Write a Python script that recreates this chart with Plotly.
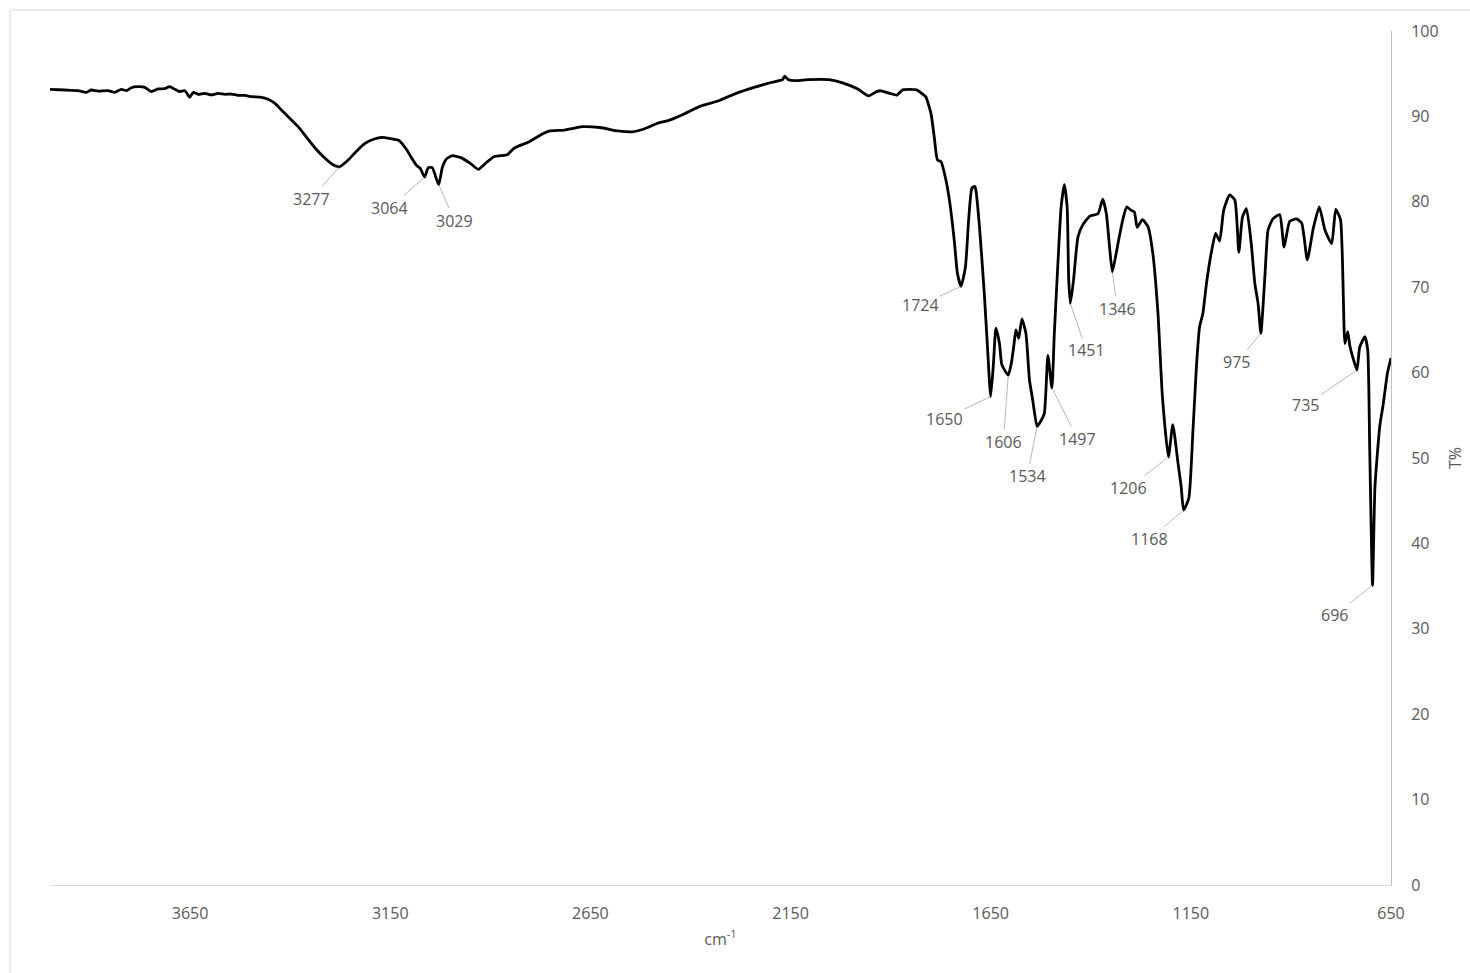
import plotly.graph_objects as go

# FTIR transmittance spectrum: wavenumber (cm-1) vs transmittance (%)
wavenumber = [
    4000, 3963, 3930, 3909, 3897, 3880, 3855, 3838, 3822, 3809, 3797, 3780, 3763, 3747,
    3730, 3713, 3701, 3688, 3676, 3663, 3651, 3642, 3630, 3613, 3597, 3580, 3563, 3547,
    3530, 3513, 3497, 3472, 3455, 3438, 3422, 3405, 3380, 3360, 3338, 3313, 3295, 3277,
    3255, 3235, 3213, 3190, 3171, 3149, 3129, 3109, 3095, 3085, 3075, 3064, 3055, 3045,
    3029, 3020, 3010, 2995, 2975, 2950, 2930, 2910, 2890, 2876, 2858, 2840, 2804, 2768,
    2751, 2715, 2670, 2626, 2581, 2545, 2518, 2482, 2456, 2420, 2375, 2331, 2286, 2241,
    2196, 2170, 2165, 2155, 2134, 2107, 2054, 2018, 1982, 1955, 1935, 1924, 1902, 1884,
    1870, 1835, 1817, 1812, 1799, 1791, 1783, 1774, 1762, 1753, 1741, 1733, 1724, 1713,
    1705, 1697, 1690, 1687, 1678, 1666, 1658, 1650, 1643, 1637, 1628, 1622, 1606, 1598,
    1592, 1587, 1580, 1572, 1562, 1553, 1545, 1534, 1525, 1516, 1507, 1497, 1491, 1482,
    1474, 1466, 1459, 1455, 1451, 1443, 1432, 1420, 1403, 1382, 1370, 1361, 1353, 1346,
    1332, 1320, 1310, 1299, 1291, 1284, 1271, 1257, 1245, 1232, 1221, 1206, 1195, 1182,
    1174, 1168, 1155, 1145, 1136, 1128, 1120, 1111, 1099, 1088, 1078, 1068, 1053, 1040,
    1030, 1021, 1011, 999, 990, 982, 975, 965, 957, 945, 928, 917, 903, 886,
    873, 859, 844, 829, 815, 798, 788, 776, 765, 758, 753, 746, 735, 728,
    715, 708, 703, 696, 690, 678, 669, 659, 650,
]
transmittance = [
    93.17, 93.09, 93.01, 92.82, 93.09, 92.97, 93.01, 92.82, 93.17, 93.01, 93.36, 93.48, 93.40, 92.90,
    93.21, 93.25, 93.48, 93.17, 92.90, 93.01, 92.24, 92.82, 92.59, 92.70, 92.51, 92.70, 92.59, 92.62,
    92.47, 92.47, 92.31, 92.24, 92.00, 91.53, 90.76, 89.97, 88.8, 87.6, 86.3, 85.1, 84.4, 84.1,
    84.9, 85.9, 86.85, 87.35, 87.55, 87.4, 87.2, 86.1, 85.0, 84.3, 83.9, 82.9, 84.0, 84.0,
    82.0, 84.0, 85.0, 85.4, 85.2, 84.5, 83.8, 84.6, 85.3, 85.4, 85.5, 86.3, 87.0, 88.0,
    88.3, 88.4, 88.8, 88.7, 88.3, 88.2, 88.5, 89.2, 89.5, 90.2, 91.2, 91.8, 92.7, 93.4,
    94.0, 94.3, 94.7, 94.3, 94.2, 94.3, 94.3, 93.9, 93.2, 92.4, 92.9, 93.0, 92.7, 92.5,
    93.1, 93.1, 92.5, 92.3, 90.3, 87.6, 84.9, 84.7, 82.6, 80.2, 75.5, 71.6, 70.1, 72.4,
    77.9, 81.6, 81.8, 81.4, 77.1, 69.3, 63.0, 57.2, 61.1, 65.2, 63.4, 60.9, 59.7, 61.2,
    63.2, 65.0, 64.0, 66.3, 64.6, 59.1, 56.8, 53.7, 54.3, 55.2, 62.0, 58.2, 64.6, 72.8,
    79.4, 82.0, 79.4, 70.8, 68.1, 70.8, 75.9, 77.3, 78.3, 78.6, 80.3, 78.6, 74.7, 71.8,
    75.1, 77.9, 79.4, 79.0, 78.8, 77.0, 77.9, 77.1, 74.0, 66.9, 57.2, 50.1, 53.9, 49.4,
    46.6, 43.9, 45.3, 52.9, 60.7, 65.4, 66.9, 70.4, 74.0, 76.3, 75.4, 79.0, 80.8, 80.2,
    74.1, 78.2, 79.2, 75.1, 70.4, 68.1, 64.6, 71.2, 76.7, 78.0, 78.5, 74.7, 77.7, 78.0,
    77.5, 73.2, 76.9, 79.4, 76.7, 75.1, 79.1, 77.9, 63.4, 64.8, 63.2, 61.9, 60.3, 63.0,
    64.2, 62.6, 50.9, 35.1, 46.6, 53.7, 56.4, 59.9, 61.7,
]

# Labelled absorption bands
peak_labels = [3277, 3064, 3029, 1724, 1650, 1606, 1534, 1497, 1451, 1346, 1206, 1168, 975, 735, 696]
# Pixel offsets of each label from its band minimum
label_dx = [-28, -35, 16, -41, -46, -5, -10, 26, 16, 5, -40, -34, -24, -51, -38]
label_dy = [32, 31, 36, 19, 22, 67, 50, 51, 47, 37, 31, 29, 29, 35, 30]

x_ticks = [3650, 3150, 2650, 2150, 1650, 1150, 650]
y_ticks = list(range(0, 101, 10))

FONT = "Open Sans"
GREY = "#595959"

fig = go.Figure()
fig.add_trace(go.Scatter(
    x=wavenumber, y=transmittance, mode="lines",
    line=dict(color="black", width=2.8, shape="spline", smoothing=0.5),
    hoverinfo="skip", showlegend=False,
))

lookup = dict(zip(wavenumber, transmittance))
for wn, dx, dy in zip(peak_labels, label_dx, label_dy):
    fig.add_annotation(
        x=wn, y=lookup[wn], text=str(wn),
        showarrow=True, arrowhead=0, arrowwidth=0.8, arrowcolor="#a6a6a6",
        ax=dx, ay=dy, standoff=1,
        font=dict(family=FONT, size=16, color=GREY),
    )

# Light outer frame of the chart area
fig.add_shape(
    type="rect", xref="paper", yref="paper",
    x0=-0.0298, x1=1.08, y0=-0.12, y1=1.0246,
    line=dict(color="#d9d9d9", width=1), fillcolor="rgba(0,0,0,0)", layer="below",
)

fig.update_layout(
    width=1470, height=973,
    margin=dict(l=50, r=79, t=31, b=88),
    paper_bgcolor="white", plot_bgcolor="white",
    font=dict(family=FONT, size=16, color=GREY),
    xaxis=dict(
        range=[4000, 649.9], tickvals=x_ticks, ticktext=[str(v) for v in x_ticks],
        showgrid=False, zeroline=False, showline=True, linecolor="#d9d9d9", linewidth=1,
        ticks="", ticklabelstandoff=14, automargin=False,
        title=dict(text="cm<sup>-1</sup>", standoff=10, font=dict(family=FONT, size=16, color=GREY)),
    ),
    yaxis=dict(
        side="right", range=[0, 100], tickvals=y_ticks,
        showgrid=False, zeroline=False, showline=True, linecolor="#bfbfbf", linewidth=1,
        ticks="", ticklabelstandoff=16, automargin=False,
        title=dict(text="T%", standoff=12, font=dict(family=FONT, size=16, color=GREY)),
    ),
)

fig.write_html("out.html")
